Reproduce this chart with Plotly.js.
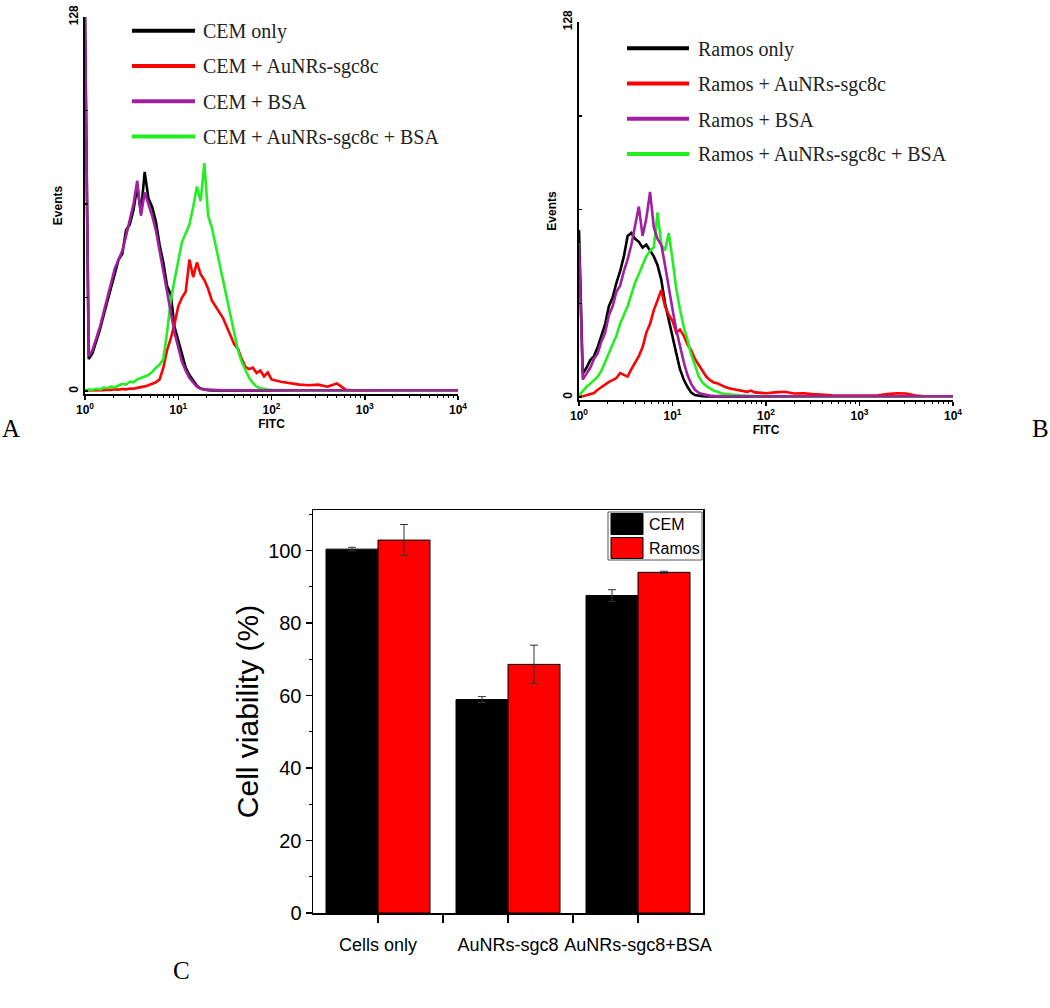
<!DOCTYPE html>
<html>
<head>
<meta charset="utf-8">
<script src="https://cdn.plot.ly/plotly-3.0.1.min.js"></script>
<style>html,body{margin:0;padding:0;background:#fff;}#chart{width:1050px;height:1008px;}</style>
</head>
<body>
<div id="chart"></div>
<script>
// ---------- DATA ----------
// FITC channel positions (log10 of fluorescence), shared by all histograms
const fitcLog = [0,0.04,0.08,0.12,0.16,0.2,0.24,0.28,0.32,0.36,0.4,0.44,0.48,0.52,0.56,0.6,0.64,0.68,0.72,0.76,
  0.8,0.84,0.88,0.92,0.96,1,1.04,1.08,1.12,1.16,1.2,1.24,1.28,1.32,1.36,1.4,1.44,1.48,1.52,1.56,
  1.6,1.64,1.68,1.72,1.76,1.8,1.84,1.88,1.92,1.96,2,
  2.1,2.2,2.3,2.4,2.5,2.6,2.7,2.8,2.9,3,3.1,3.2,3.3,3.4,3.5,3.6,3.7,3.8,3.9,4];
const fitcTickVals = [1,10,100,1000,10000];
const fitcTickText = ['10<sup>0</sup>','10<sup>1</sup>','10<sup>2</sup>','10<sup>3</sup>','10<sup>4</sup>'];
const eventTickVals = [0,128];
const eventTickText = ['0','128'];
const eventMinorTicks = [32,64,96];

// Panel A (CEM cells), events per channel
const namesA = ['CEM only','CEM + AuNRs-sgc8c','CEM + BSA','CEM + AuNRs-sgc8c + BSA'];
const cemOnly = [128,11,13,17,21,26,31,36,41,45,47,55,57,62,70,61,75,66,63,58,
  50,44,36,33,22,17,12,8,5.5,3.5,1.8,0.9,0.5,0.3,0.2,0.3,0.2,0.2,0.3,0.2,
  0.2,0.2,0.2,0.2,0.2,0.2,0.2,0.2,0.2,0.2,0.2,
  0.2,0.2,0.2,0.2,0.2,0.2,0.2,0.2,0.2,0.2,0.2,0.2,0.2,0.2,0.2,0.2,0.2,0.2,0.2,0.2];
const cemAu = [0.2,0.2,0.3,0.2,0.4,0.3,0.5,0.4,0.6,0.5,0.7,0.6,0.9,0.8,1.1,1.3,1.6,2,2.6,3,
  4,8,14,18,23,29,32,34,45,39,44,40,38,35,31,29,27,25,22,19,
  16,14.5,11,8.3,7.5,8,6.2,7,5,6.4,4,
  3.2,2.7,2.2,2,2.2,1.5,2.6,0.4,0.2,0.3,0.2,0.2,0.3,0.2,0.2,0.2,0.3,0.2,0.2,0.2];
const cemBsa = [128,12,14,18,22,27,32,38,42,45,48,53,58,64,72,60,68,64,60,55,
  48,40,33,27,20,15,10,7,4.5,3,1.5,0.8,0.5,0.5,0.4,0.3,0.4,0.3,0.3,0.4,
  0.3,0.3,0.3,0.3,0.4,0.3,0.3,0.3,0.3,0.3,0.3,
  0.3,0.3,0.3,0.3,0.3,0.3,0.3,0.3,0.3,0.3,0.3,0.3,0.3,0.3,0.3,0.3,0.3,0.3,0.3,0.3];
const cemAuBsa = [0.3,0.5,0.4,0.8,0.6,1.2,1,1.5,1.3,2,2.5,2.2,3.2,3,4,4.5,5,5.5,6.5,8,
  9,11,20,31,38,45,51,54,57,63,70,65,78,60,56,50,44,38,31,26,
  20,14,10,7,4.5,2.8,1.5,1,0.7,0.5,0.4,
  0.3,0.3,0.3,0.2,0.3,0.2,0.3,0.2,0.3,0.4,0.3,0.2,0.3,0.2,0.3,0.2,0.3,0.3,0.2,0.3];

// Panel B (Ramos cells), events per channel
const namesB = ['Ramos only','Ramos + AuNRs-sgc8c','Ramos + BSA','Ramos + AuNRs-sgc8c + BSA'];
const ramosOnly = [57,8,10,12.6,14,17,21,25,31,34,39,43,48,55,56,54,53,51,52,50,
  48,45,40,32,26,20,15,9.5,6,3.5,1.5,0.7,0.4,0.3,0.2,0.3,0.2,0.2,0.3,0.2,
  0.2,0.2,0.2,0.2,0.2,0.2,0.2,0.2,0.2,0.2,0.2,
  0.2,0.2,0.2,0.2,0.2,0.2,0.2,0.2,0.2,0.2,0.2,0.2,0.2,0.2,0.2,0.2,0.2,0.2,0.2,0.2];
const ramosAu = [0.3,0.3,0.6,1,1.4,2.5,3.5,4.5,5.2,5.8,6.5,8.2,7.5,7,9.5,11.6,14,17,22,25,
  29.7,33,36.5,31,28,26,22,23,21,18,16,13,11,9,7,5.8,5,4.7,4,3.5,
  3,2.8,2.6,2.4,2,1.8,2.2,1.6,1.5,1.3,1.3,
  1.6,1.8,1.2,1.3,1,0.7,0.6,0.5,0.5,0.4,0.5,0.6,1,1.3,1.2,0.5,0.3,0.3,0.3,0.3];
const ramosBsa = [52.6,6,8,10,13,15,19,22,28,31,36,38,43,47,52,58,65,55,61,70,
  58,54,52,45,37,30,23,17,12,7.5,4.5,2.5,1.5,1,0.7,0.5,0.4,0.3,0.4,0.3,
  0.3,0.3,0.3,0.3,0.3,0.3,0.3,0.3,0.3,0.3,0.3,
  0.3,0.3,0.3,0.3,0.3,0.3,0.3,0.3,0.3,0.3,0.3,0.3,0.3,0.3,0.3,0.3,0.3,0.3,0.3,0.3];
const ramosAuBsa = [0.5,2,3.5,4.5,5.8,7,9,12,15,18,21,25,28,31,35,39,42,45,48,50,
  51,63,52,50,56,47,37,30,24,19.5,14.5,11,7,5,3.8,3,2.2,1.8,1.3,1.1,
  0.9,0.7,0.6,0.5,0.5,0.4,0.4,0.3,0.3,0.4,0.3,
  0.3,0.3,0.2,0.3,0.2,0.3,0.2,0.2,0.3,0.2,0.2,0.3,0.2,0.2,0.2,0.2,0.2,0.2,0.2,0.2];

// Panel C: cell viability
const categories = ['Cells only','AuNRs-sgc8','AuNRs-sgc8+BSA'];
const barNames = ['CEM','Ramos'];
const cemViability = [100.4, 58.9, 87.6];
const cemError = [0.5, 0.8, 1.6];
const ramosViability = [102.9, 68.6, 94.0];
const ramosError = [4.3, 5.3, 0.3];

// ---------- STYLE / LAYOUT ----------
const W = 1050, H = 1008;
const PX = x => x / W;
const PY = y => 1 - y / H;
const lineColors = ['#000000', '#ff0000', '#a0209f', '#22ee22'];
const drawOrder = [0, 1, 3, 2];   // black, red, green, purple on top
const fitcX = fitcLog.map(v => Math.pow(10, v));

const seriesA = [cemOnly, cemAu, cemBsa, cemAuBsa];
const seriesB = [ramosOnly, ramosAu, ramosBsa, ramosAuBsa];

const traces = [];
drawOrder.forEach(i => {
  traces.push({type:'scatter', mode:'lines', name:namesA[i], x:fitcX, y:seriesA[i],
    xaxis:'x', yaxis:'y', line:{color:lineColors[i], width:2.6}, showlegend:false});
});
drawOrder.forEach(i => {
  traces.push({type:'scatter', mode:'lines', name:namesB[i], x:fitcX, y:seriesB[i],
    xaxis:'x2', yaxis:'y2', line:{color:lineColors[i], width:2.6}, showlegend:false});
});
const catIdx = categories.map((c, i) => i);
traces.push({type:'bar', name:barNames[0], x:catIdx, y:cemViability, xaxis:'x3', yaxis:'y3',
  marker:{color:'#000000', line:{color:'#000', width:1}},
  error_y:{type:'data', array:cemError, color:'#333', thickness:1, width:4}, showlegend:false});
traces.push({type:'bar', name:barNames[1], x:catIdx, y:ramosViability, xaxis:'x3', yaxis:'y3',
  marker:{color:'#ff0000', line:{color:'#000', width:1}},
  error_y:{type:'data', array:ramosError, color:'#333', thickness:1, width:4}, showlegend:false});

const boldSmall = {family:'Liberation Sans, Arial, sans-serif', size:12, color:'#000', weight:'bold'};

function histX(domain, anchor) {
  return {domain:domain, anchor:anchor, type:'log', range:[0,4],
    tickmode:'array', tickvals:fitcTickVals, ticktext:fitcTickText,
    ticks:'outside', ticklen:4, tickwidth:1.5, tickcolor:'#000',
    minor:{ticks:'outside', ticklen:2, tickwidth:1, tickcolor:'#000', dtick:'D1'},
    showline:true, linecolor:'#000', linewidth:2, showgrid:false, zeroline:false,
    tickfont:boldSmall, title:{text:'FITC', font:boldSmall, standoff:0}};
}
function histY(domain, anchor) {
  return {domain:domain, anchor:anchor, range:[-1,128],
    tickmode:'array', tickvals:eventTickVals, ticktext:eventTickText, tickangle:-90,
    ticks:'inside', ticklen:3, tickwidth:1.5, tickcolor:'#000',
    minor:{tickmode:'array', tickvals:eventMinorTicks, ticks:'inside', ticklen:3, tickwidth:1.5, tickcolor:'#000'},
    showline:true, linecolor:'#000', linewidth:2, showgrid:false, zeroline:false,
    tickfont:boldSmall, title:{text:'Events', font:boldSmall, standoff:2}};
}

const shapes = [];
const annotations = [];
const serif = 'Liberation Serif, Times New Roman, serif';
const sans = 'Liberation Sans, Arial, sans-serif';
function lineLegend(names, x0, x1, textX, y0, dy) {
  names.forEach((n, i) => {
    const y = y0 + i * dy;
    shapes.push({type:'line', xref:'paper', yref:'paper', x0:PX(x0), x1:PX(x1), y0:PY(y), y1:PY(y),
      line:{color:lineColors[i], width:4}});
    annotations.push({xref:'paper', yref:'paper', x:PX(textX), y:PY(y), xanchor:'left', yanchor:'middle',
      text:n, showarrow:false, yshift:-1, font:{family:serif, size:20, color:'#222'}});
  });
}
lineLegend(namesA, 132, 195, 201, 30.7, 35.3);
lineLegend(namesB, 627, 689, 696, 48.3, 35.2);

// bar legend (panel C)
shapes.push({type:'rect', xref:'paper', yref:'paper', x0:PX(608), x1:PX(702), y0:PY(560), y1:PY(512),
  line:{color:'#555', width:1}, fillcolor:'rgba(0,0,0,0)'});
const barColors = ['#000000', '#ff0000'];
barNames.forEach((n, i) => {
  const yTop = 513.5 + i * 24;
  shapes.push({type:'rect', xref:'paper', yref:'paper', x0:PX(611), x1:PX(643), y0:PY(yTop + 21), y1:PY(yTop),
    line:{color:'#000', width:1}, fillcolor:barColors[i]});
  annotations.push({xref:'paper', yref:'paper', x:PX(647), y:PY(yTop + 10.5), xanchor:'left', yanchor:'middle',
    text:n, showarrow:false, font:{family:sans, size:16, color:'#000'}});
});

// panel letters
[['A', 11, 428], ['B', 1040, 428], ['C', 181, 970]].forEach(([t, x, y]) => {
  annotations.push({xref:'paper', yref:'paper', x:PX(x), y:PY(y), xanchor:'center', yanchor:'middle',
    text:t, showarrow:false, font:{family:serif, size:25, color:'#000'}});
});

const layout = {
  width:W, height:H, margin:{l:0, r:0, t:0, b:0},
  paper_bgcolor:'#fff', plot_bgcolor:'rgba(0,0,0,0)',
  showlegend:false, hovermode:false,
  barmode:'group', bargap:0.2, bargroupgap:0,
  xaxis: histX([PX(85), PX(458)], 'y'),
  yaxis: histY([PY(394), PY(17)], 'x'),
  xaxis2: histX([PX(579), PX(953)], 'y2'),
  yaxis2: histY([PY(400), PY(22)], 'x2'),
  xaxis3: {domain:[PX(313), PX(703)], anchor:'y3', range:[-0.5, 2.5],
    tickmode:'array', tickvals:catIdx, ticktext:categories, tickangle:0,
    ticks:'outside', ticklen:8, tickwidth:1.2, tickcolor:'#000',
    minor:{tickmode:'array', tickvals:[0.5, 1.5], ticks:'outside', ticklen:8, tickwidth:1.2, tickcolor:'#000'},
    showline:true, linecolor:'#000', linewidth:1.5, mirror:true, showgrid:false, zeroline:false,
    tickfont:{family:sans, size:18, color:'#000'}, ticklabelstandoff:7},
  yaxis3: {domain:[PY(913), PY(510)], anchor:'x3', range:[0, 111.2],
    tickmode:'linear', tick0:0, dtick:20,
    ticks:'outside', ticklen:6, tickwidth:1.2, tickcolor:'#000',
    minor:{ticks:'outside', ticklen:3, tickwidth:1, tickcolor:'#000', dtick:10},
    showline:true, linecolor:'#000', linewidth:1.5, mirror:true, showgrid:false, zeroline:false,
    tickfont:{family:sans, size:20, color:'#000'},
    title:{text:'Cell viability (%)', font:{family:sans, size:30, color:'#000'}, standoff:0}},
  shapes:shapes,
  annotations:annotations
};

Plotly.newPlot('chart', traces, layout, {staticPlot:true, displayModeBar:false});
</script>
</body>
</html>
